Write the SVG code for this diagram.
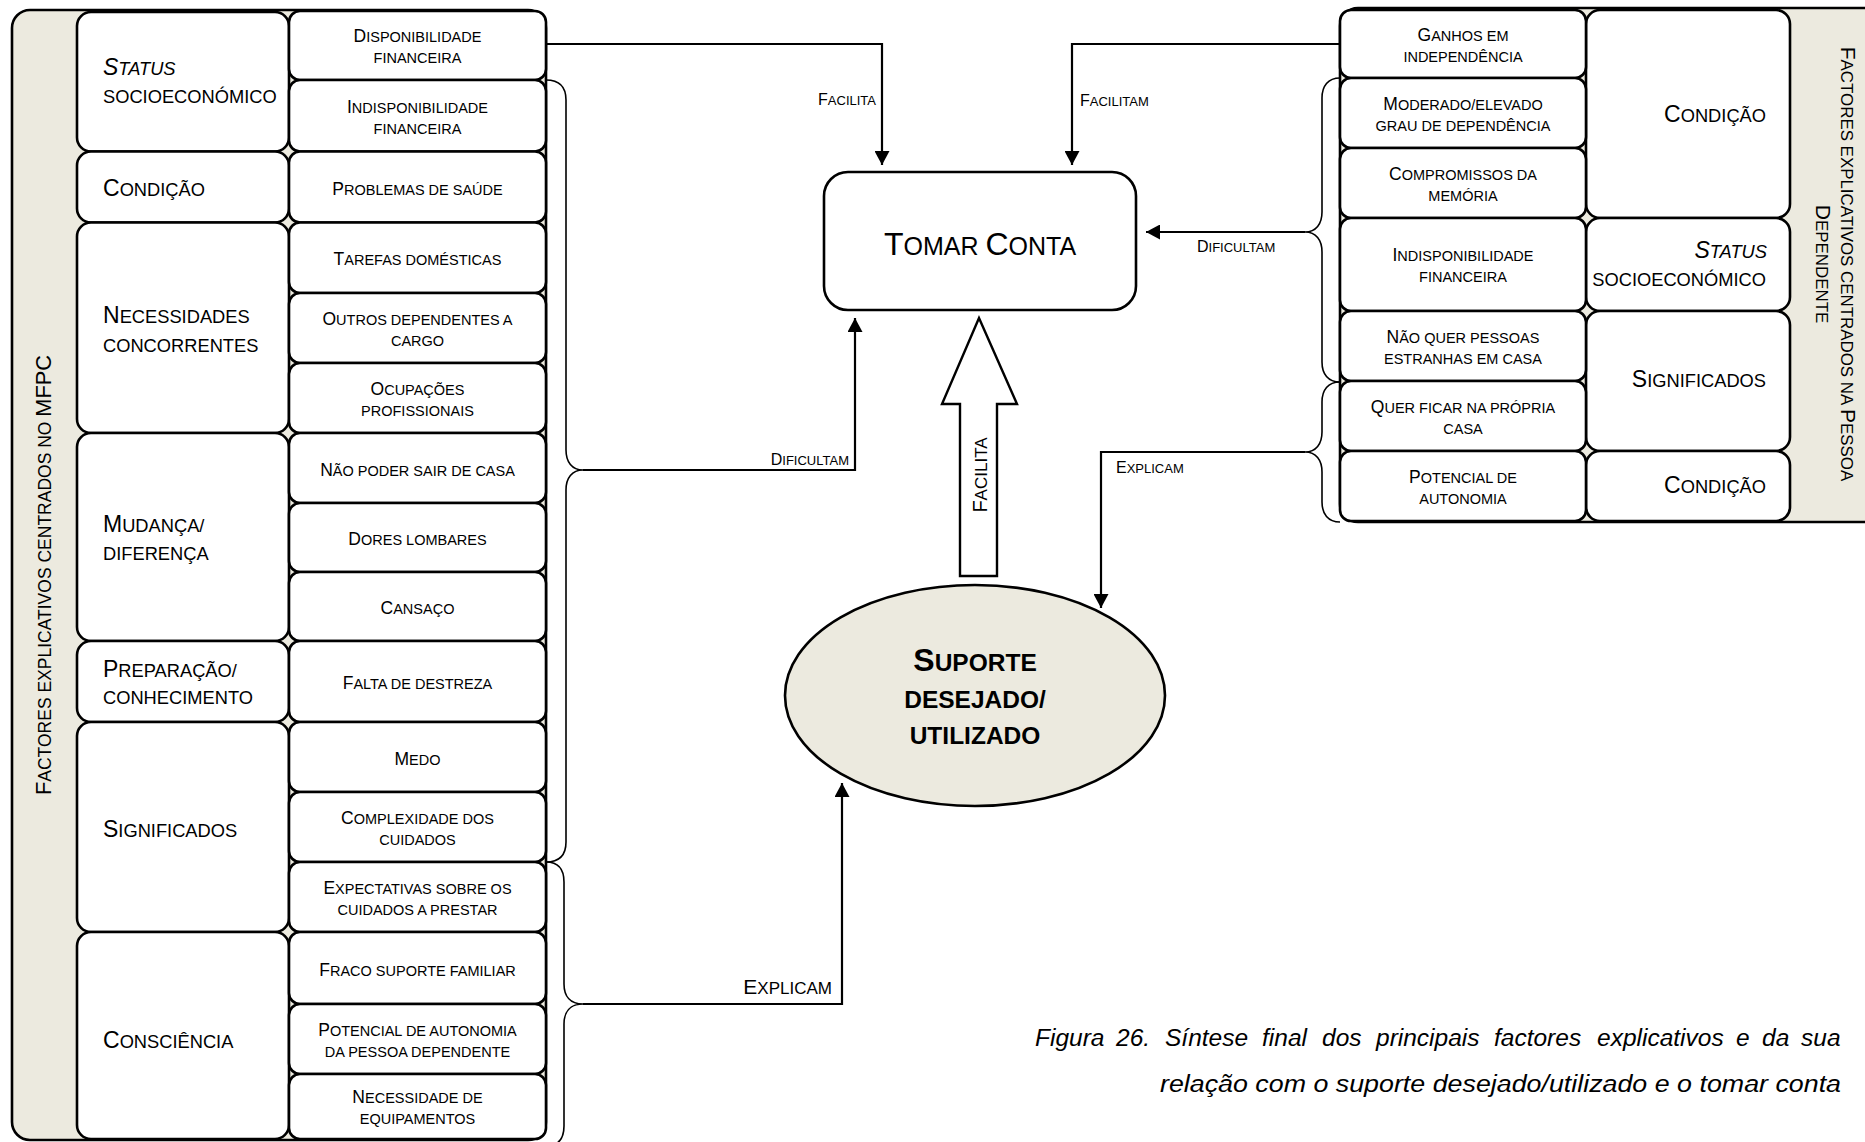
<svg xmlns="http://www.w3.org/2000/svg" width="1865" height="1142" viewBox="0 0 1865 1142">
<defs>
  <style>
    text { font-family: "Liberation Sans", Arial, sans-serif; fill: #000; }
    .frame { fill: #ECEADF; stroke: #000; stroke-width: 2.6; }
    .box { fill: #fff; stroke: #000; stroke-width: 2.6; }
    .item { font-size: 14.5px; text-anchor: middle; }
    .item .c { font-size: 17.5px; }
    .cat { font-size: 18.3px; }
    .cat .c { font-size: 23px; }
    .r { text-anchor: end; }
    .it { font-style: italic; }
    .side { font-size: 16.9px; text-anchor: middle; }
    .side .c { font-size: 21px; }
    .side.l { font-size: 17.5px; }
    .side.l .c { font-size: 21.8px; }
    .lbl { font-size: 13px; }
    .lbl .c { font-size: 16px; }
    .lbl2 { font-size: 17px; }
    .lbl2 .c { font-size: 21px; }
    .arrowtxt { font-size: 17px; text-anchor: middle; }
    .arrowtxt .c { font-size: 20px; }
    .main { font-size: 25px; text-anchor: middle; }
    .main .c { font-size: 32px; }
    .ell { font-size: 24.5px; font-weight: bold; text-anchor: middle; }
    .ell .c { font-size: 32px; }
    .edge { fill: none; stroke: #000; stroke-width: 2.2; }
    .brace { fill: none; stroke: #000; stroke-width: 1.6; }
    .caption { font-size: 24.5px; font-style: italic; }
  </style>
  <marker id="ah" markerUnits="userSpaceOnUse" markerWidth="14" markerHeight="15" viewBox="0 0 14 15" refX="14" refY="7.5" orient="auto">
    <path d="M0,0 L14,7.5 L0,15 z" fill="#000"/>
  </marker>
</defs>

<!-- Left panel: factors centred on the family caregiver -->
<g id="left-panel">
  <rect class="frame" x="12" y="10" width="534" height="1130" rx="18"/>
  <text class="side l" transform="translate(51,575) rotate(-90)"><tspan class="c">F</tspan>ACTORES EXPLICATIVOS CENTRADOS NO <tspan class="c">MFPC</tspan></text>
</g>

<g id="left-categories">
  <g id="cat-status">
    <rect class="box" x="77" y="12" width="212" height="139.5" rx="14"/>
    <text class="cat" x="103" y="75"><tspan class="it"><tspan class="c">S</tspan>TATUS</tspan></text>
    <text class="cat" x="103" y="103">SOCIOECONÓMICO</text>
  </g>
  <g id="cat-condicao">
    <rect class="box" x="77" y="151.5" width="212" height="71" rx="14"/>
    <text class="cat" x="103" y="196"><tspan class="c">C</tspan>ONDIÇÃO</text>
  </g>
  <g id="cat-necessidades">
    <rect class="box" x="77" y="222.5" width="212" height="210.5" rx="14"/>
    <text class="cat" x="103" y="323"><tspan class="c">N</tspan>ECESSIDADES</text>
    <text class="cat" x="103" y="352">CONCORRENTES</text>
  </g>
  <g id="cat-mudanca">
    <rect class="box" x="77" y="433" width="212" height="208" rx="14"/>
    <text class="cat" x="103" y="532"><tspan class="c">M</tspan>UDANÇA/</text>
    <text class="cat" x="103" y="560">DIFERENÇA</text>
  </g>
  <g id="cat-preparacao">
    <rect class="box" x="77" y="641" width="212" height="81" rx="14"/>
    <text class="cat" x="103" y="677"><tspan class="c">P</tspan>REPARAÇÃO/</text>
    <text class="cat" x="103" y="704">CONHECIMENTO</text>
  </g>
  <g id="cat-significados">
    <rect class="box" x="77" y="722" width="212" height="210" rx="14"/>
    <text class="cat" x="103" y="837"><tspan class="c">S</tspan>IGNIFICADOS</text>
  </g>
  <g id="cat-consciencia">
    <rect class="box" x="77" y="932" width="212" height="207" rx="14"/>
    <text class="cat" x="103" y="1048"><tspan class="c">C</tspan>ONSCIÊNCIA</text>
  </g>
</g>

<g id="left-items">
  <g id="item-disponibilidade">
    <rect class="box" x="289" y="11" width="257" height="69" rx="11"/>
    <text class="item" x="417.5" y="42"><tspan class="c">D</tspan>ISPONIBILIDADE</text>
    <text class="item" x="417.5" y="63">FINANCEIRA</text>
  </g>
  <g id="item-indisponibilidade">
    <rect class="box" x="289" y="80" width="257" height="71.5" rx="11"/>
    <text class="item" x="417.5" y="112.5"><tspan class="c">I</tspan>NDISPONIBILIDADE</text>
    <text class="item" x="417.5" y="133.5">FINANCEIRA</text>
  </g>
  <g id="item-saude">
    <rect class="box" x="289" y="151.5" width="257" height="71" rx="11"/>
    <text class="item" x="417.5" y="194.5"><tspan class="c">P</tspan>ROBLEMAS DE SAÚDE</text>
  </g>
  <g id="item-tarefas">
    <rect class="box" x="289" y="222.5" width="257" height="70.5" rx="11"/>
    <text class="item" x="417.5" y="265"><tspan class="c">T</tspan>AREFAS DOMÉSTICAS</text>
  </g>
  <g id="item-outros">
    <rect class="box" x="289" y="293" width="257" height="70" rx="11"/>
    <text class="item" x="417.5" y="324.5"><tspan class="c">O</tspan>UTROS DEPENDENTES A</text>
    <text class="item" x="417.5" y="345.5">CARGO</text>
  </g>
  <g id="item-ocupacoes">
    <rect class="box" x="289" y="363" width="257" height="70" rx="11"/>
    <text class="item" x="417.5" y="394.5"><tspan class="c">O</tspan>CUPAÇÕES</text>
    <text class="item" x="417.5" y="415.5">PROFISSIONAIS</text>
  </g>
  <g id="item-sair">
    <rect class="box" x="289" y="433" width="257" height="70" rx="11"/>
    <text class="item" x="417.5" y="475.5"><tspan class="c">N</tspan>ÃO PODER SAIR DE CASA</text>
  </g>
  <g id="item-dores">
    <rect class="box" x="289" y="503" width="257" height="69" rx="11"/>
    <text class="item" x="417.5" y="545"><tspan class="c">D</tspan>ORES LOMBARES</text>
  </g>
  <g id="item-cansaco">
    <rect class="box" x="289" y="572" width="257" height="69" rx="11"/>
    <text class="item" x="417.5" y="614"><tspan class="c">C</tspan>ANSAÇO</text>
  </g>
  <g id="item-destreza">
    <rect class="box" x="289" y="641" width="257" height="81" rx="11"/>
    <text class="item" x="417.5" y="689"><tspan class="c">F</tspan>ALTA DE DESTREZA</text>
  </g>
  <g id="item-medo">
    <rect class="box" x="289" y="722" width="257" height="70" rx="11"/>
    <text class="item" x="417.5" y="764.5"><tspan class="c">M</tspan>EDO</text>
  </g>
  <g id="item-complexidade">
    <rect class="box" x="289" y="792" width="257" height="70" rx="11"/>
    <text class="item" x="417.5" y="823.5"><tspan class="c">C</tspan>OMPLEXIDADE DOS</text>
    <text class="item" x="417.5" y="844.5">CUIDADOS</text>
  </g>
  <g id="item-expectativas">
    <rect class="box" x="289" y="862" width="257" height="70" rx="11"/>
    <text class="item" x="417.5" y="893.5"><tspan class="c">E</tspan>XPECTATIVAS SOBRE OS</text>
    <text class="item" x="417.5" y="914.5">CUIDADOS A PRESTAR</text>
  </g>
  <g id="item-suporte-familiar">
    <rect class="box" x="289" y="932" width="257" height="72" rx="11"/>
    <text class="item" x="417.5" y="975.5"><tspan class="c">F</tspan>RACO SUPORTE FAMILIAR</text>
  </g>
  <g id="item-potencial">
    <rect class="box" x="289" y="1004" width="257" height="70" rx="11"/>
    <text class="item" x="417.5" y="1035.5"><tspan class="c">P</tspan>OTENCIAL DE AUTONOMIA</text>
    <text class="item" x="417.5" y="1056.5">DA PESSOA DEPENDENTE</text>
  </g>
  <g id="item-equipamentos">
    <rect class="box" x="289" y="1074" width="257" height="65" rx="11"/>
    <text class="item" x="417.5" y="1103"><tspan class="c">N</tspan>ECESSIDADE DE</text>
    <text class="item" x="417.5" y="1124">EQUIPAMENTOS</text>
  </g>
</g>

<!-- Right panel: factors centred on the dependent person -->
<g id="right-panel">
  <rect class="frame" x="1340" y="8" width="560" height="514" rx="18"/>
  <text class="side" transform="translate(1841,264) rotate(90)"><tspan class="c">F</tspan>ACTORES EXPLICATIVOS CENTRADOS NA <tspan class="c">P</tspan>ESSOA</text>
  <text class="side" transform="translate(1816,264) rotate(90)"><tspan class="c">D</tspan>EPENDENTE</text>
</g>

<g id="right-categories">
  <g id="rcat-condicao-1">
    <rect class="box" x="1586" y="10" width="204" height="208" rx="14"/>
    <text class="cat r" x="1766" y="122"><tspan class="c">C</tspan>ONDIÇÃO</text>
  </g>
  <g id="rcat-status">
    <rect class="box" x="1586" y="218" width="204" height="93" rx="14"/>
    <text class="cat r it" x="1767" y="257.5"><tspan class="c">S</tspan>TATUS</text>
    <text class="cat r" x="1766" y="286">SOCIOECONÓMICO</text>
  </g>
  <g id="rcat-significados">
    <rect class="box" x="1586" y="311" width="204" height="140" rx="14"/>
    <text class="cat r" x="1766" y="387"><tspan class="c">S</tspan>IGNIFICADOS</text>
  </g>
  <g id="rcat-condicao-2">
    <rect class="box" x="1586" y="451" width="204" height="70" rx="14"/>
    <text class="cat r" x="1766" y="493"><tspan class="c">C</tspan>ONDIÇÃO</text>
  </g>
</g>

<g id="right-items">
  <g id="ritem-ganhos">
    <rect class="box" x="1340" y="10" width="246" height="68" rx="11"/>
    <text class="item" x="1463" y="40.5"><tspan class="c">G</tspan>ANHOS EM</text>
    <text class="item" x="1463" y="61.5">INDEPENDÊNCIA</text>
  </g>
  <g id="ritem-dependencia">
    <rect class="box" x="1340" y="78" width="246" height="70" rx="11"/>
    <text class="item" x="1463" y="109.5"><tspan class="c">M</tspan>ODERADO/ELEVADO</text>
    <text class="item" x="1463" y="130.5">GRAU DE DEPENDÊNCIA</text>
  </g>
  <g id="ritem-memoria">
    <rect class="box" x="1340" y="148" width="246" height="70" rx="11"/>
    <text class="item" x="1463" y="179.5"><tspan class="c">C</tspan>OMPROMISSOS DA</text>
    <text class="item" x="1463" y="200.5">MEMÓRIA</text>
  </g>
  <g id="ritem-indisponibilidade">
    <rect class="box" x="1340" y="218" width="246" height="93" rx="11"/>
    <text class="item" x="1463" y="260.5"><tspan class="c">I</tspan>NDISPONIBILIDADE</text>
    <text class="item" x="1463" y="281.5">FINANCEIRA</text>
  </g>
  <g id="ritem-estranhas">
    <rect class="box" x="1340" y="311" width="246" height="70" rx="11"/>
    <text class="item" x="1463" y="342.5"><tspan class="c">N</tspan>ÃO QUER PESSOAS</text>
    <text class="item" x="1463" y="363.5">ESTRANHAS EM CASA</text>
  </g>
  <g id="ritem-casa">
    <rect class="box" x="1340" y="381" width="246" height="70" rx="11"/>
    <text class="item" x="1463" y="412.5"><tspan class="c">Q</tspan>UER FICAR NA PRÓPRIA</text>
    <text class="item" x="1463" y="433.5">CASA</text>
  </g>
  <g id="ritem-autonomia">
    <rect class="box" x="1340" y="451" width="246" height="70" rx="11"/>
    <text class="item" x="1463" y="482.5"><tspan class="c">P</tspan>OTENCIAL DE</text>
    <text class="item" x="1463" y="503.5">AUTONOMIA</text>
  </g>
</g>

<!-- Central outcomes -->
<g id="tomar-conta">
  <rect class="box" x="824" y="172" width="312" height="138" rx="24"/>
  <text class="main" x="980" y="255"><tspan class="c">T</tspan>OMAR <tspan class="c">C</tspan>ONTA</text>
</g>

<g id="suporte">
  <ellipse cx="975" cy="695.5" rx="190" ry="110.5" fill="#ECEADF" stroke="#000" stroke-width="2.6"/>
  <text class="ell" x="975" y="671"><tspan class="c">S</tspan>UPORTE</text>
  <text class="ell" x="975" y="708">DESEJADO/</text>
  <text class="ell" x="975" y="744">UTILIZADO</text>
</g>

<!-- Connectors: braces, arrows and their labels -->
<g id="connectors">
  <path class="brace" d="M546,80 C560,80 566,88 566,100 V450 C566,462 572,470 583,470 C572,470 566,478 566,490 V842 C566,854 560,862 546,862"/>
  <path class="brace" d="M546,862 C559,862 564,870 564,882 V984 C564,996 570,1004 583,1004 C570,1004 564,1012 564,1024 V1126 C564,1138 559,1146 546,1146"/>
  <path class="brace" d="M1340,78 C1328,78 1322,86 1322,98 V212 C1322,224 1316,232 1305,232 C1316,232 1322,240 1322,252 V362 C1322,374 1328,382 1340,382"/>
  <path class="brace" d="M1340,382 C1328,382 1322,390 1322,402 V432 C1322,444 1316,452 1305,452 C1316,452 1322,460 1322,472 V502 C1322,514 1328,522 1340,522"/>

  <path class="edge" d="M546,44 H882 V165" marker-end="url(#ah)"/>
  <path class="edge" d="M1340,44 H1072 V165" marker-end="url(#ah)"/>
  <path class="edge" d="M1305,232 H1146" marker-end="url(#ah)"/>
  <path class="edge" d="M583,470 H855 V318" marker-end="url(#ah)"/>
  <path class="edge" d="M1305,452 H1101 V608" marker-end="url(#ah)"/>
  <path class="edge" d="M583,1004 H842 V783" marker-end="url(#ah)"/>

  <polygon points="960,576 960,404 942,404 979,318 1017,404 997,404 997,576" fill="#fff" stroke="#000" stroke-width="2.4" stroke-linejoin="miter"/>
  <text class="arrowtxt" transform="translate(987,475) rotate(-90)"><tspan class="c">F</tspan>ACILITA</text>

  <text class="lbl r" x="876" y="105"><tspan class="c">F</tspan>ACILITA</text>
  <text class="lbl" x="1080" y="106"><tspan class="c">F</tspan>ACILITAM</text>
  <text class="lbl" x="1197" y="252"><tspan class="c">D</tspan>IFICULTAM</text>
  <text class="lbl r" x="849" y="465"><tspan class="c">D</tspan>IFICULTAM</text>
  <text class="lbl" x="1116" y="473"><tspan class="c">E</tspan>XPLICAM</text>
  <text class="lbl2 r" x="832" y="994"><tspan class="c">E</tspan>XPLICAM</text>
</g>

<!-- Figure caption (first line justified) -->
<g id="caption">
  <text class="caption" y="1046"><tspan x="1035">Figura</tspan><tspan x="1116">26.</tspan><tspan x="1165">Síntese</tspan><tspan x="1262">final</tspan><tspan x="1322">dos</tspan><tspan x="1376">principais</tspan><tspan x="1494">factores</tspan><tspan x="1597">explicativos</tspan><tspan x="1736">e</tspan><tspan x="1762">da</tspan><tspan x="1801">sua</tspan></text>
  <text class="caption" x="1160" y="1092" textLength="681" lengthAdjust="spacingAndGlyphs">relação com o suporte desejado/utilizado e o tomar conta</text>
</g>
</svg>
